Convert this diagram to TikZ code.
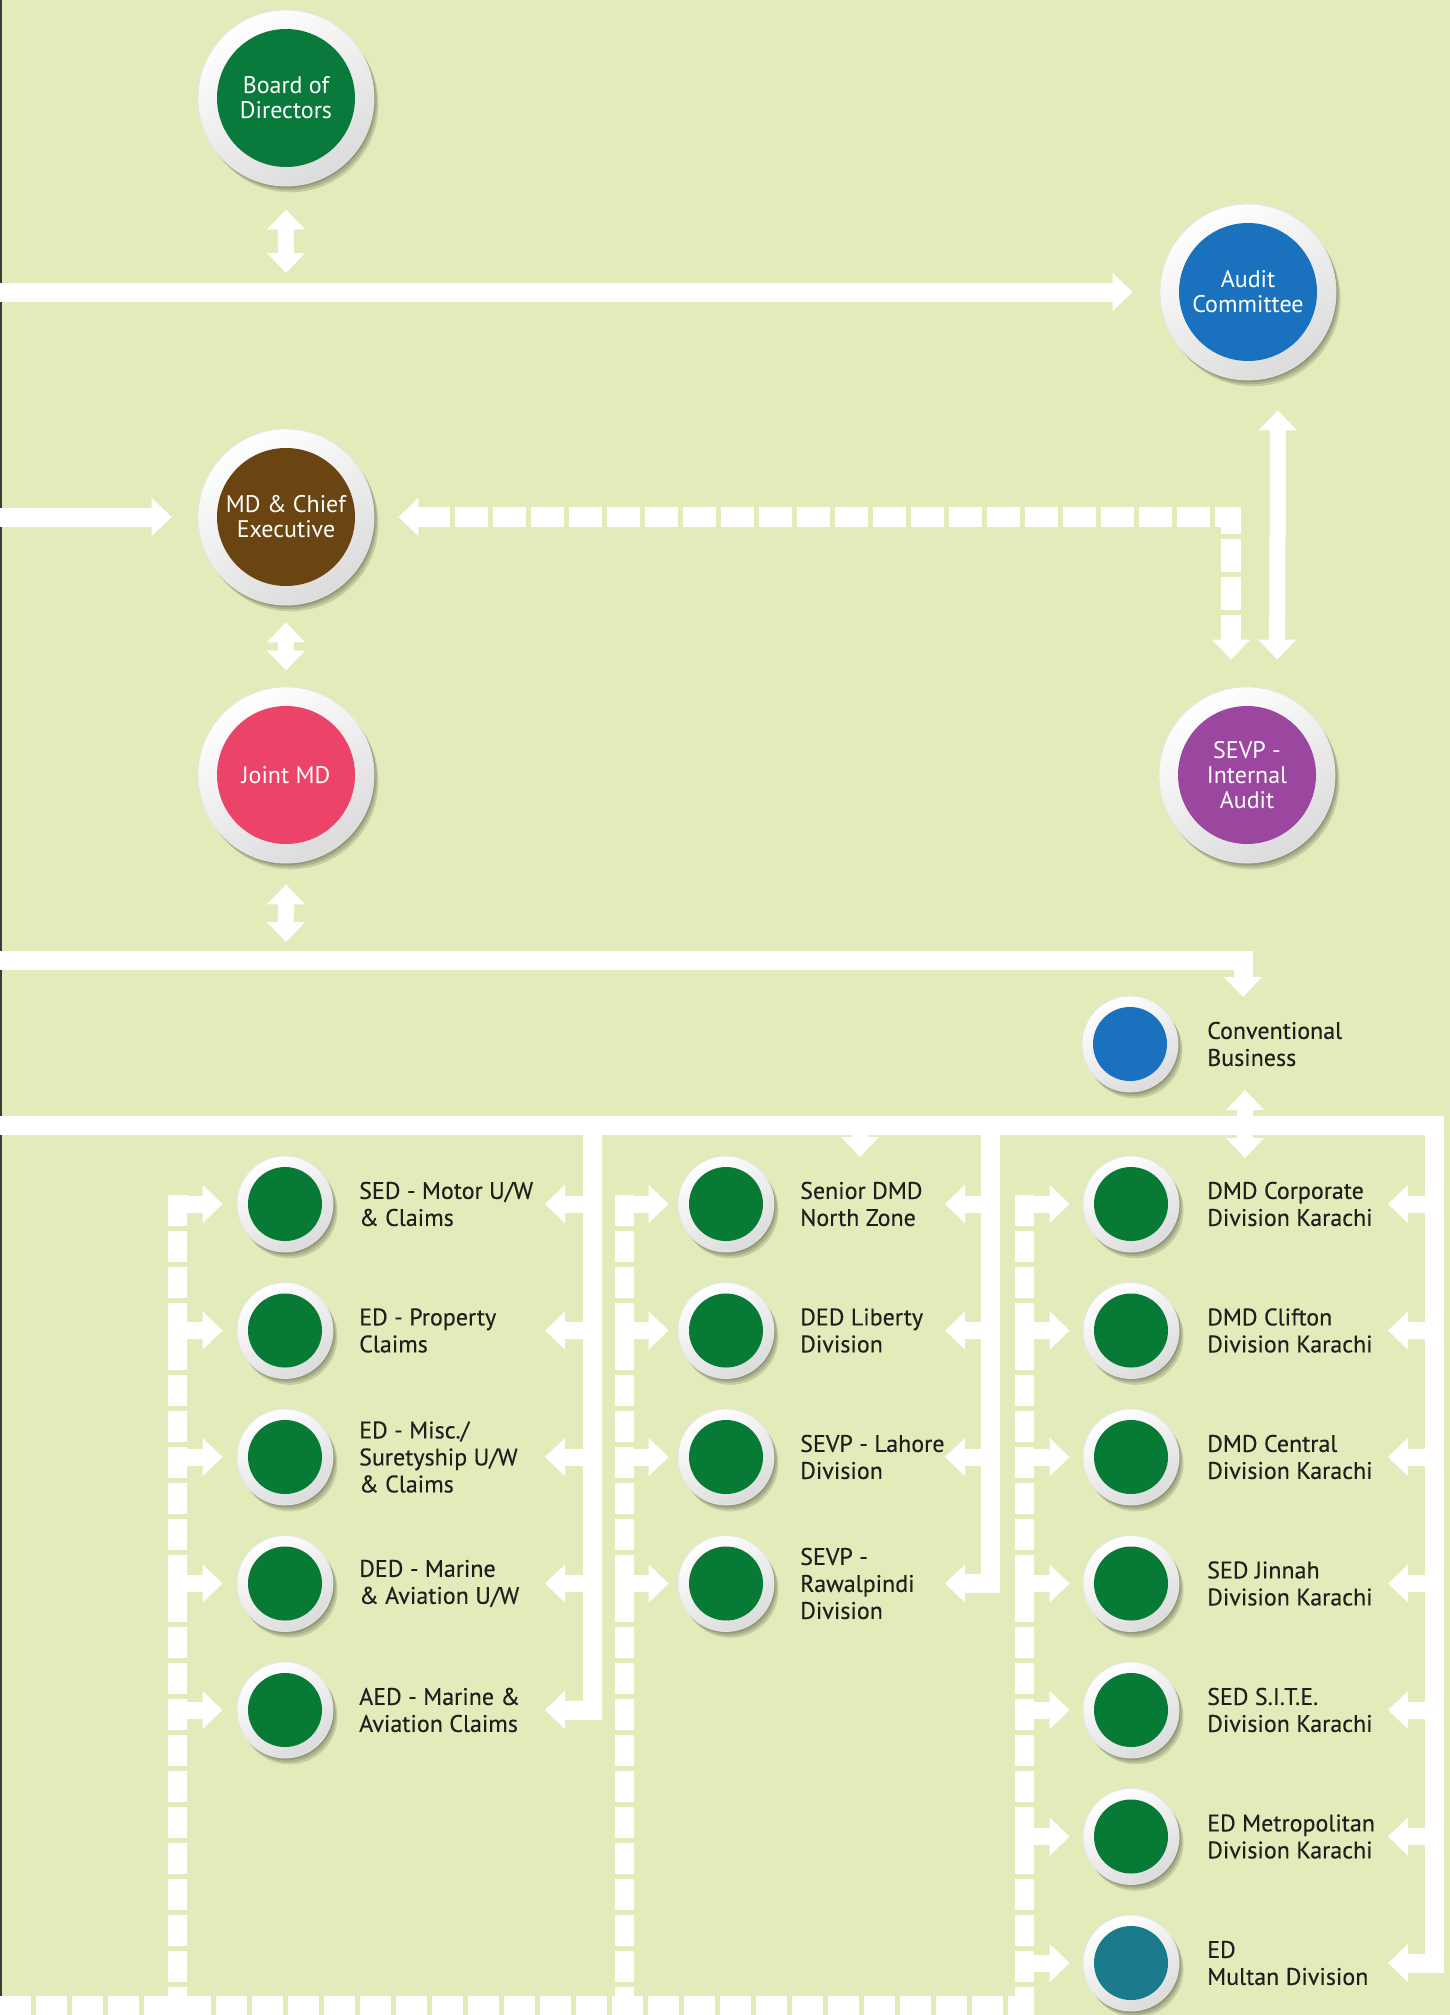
\documentclass[tikz,border=0pt]{standalone}
\usepackage{fontspec}
\setmainfont{PT Sans}
\usetikzlibrary{arrows.meta,shadows,calc}

\definecolor{bg}{HTML}{E2ECBA}
\definecolor{edge}{HTML}{3A3A3A}
\definecolor{boardgreen}{HTML}{0A7A3C}
\definecolor{unitgreen}{HTML}{077A36}
\definecolor{auditblue}{HTML}{1A72BE}
\definecolor{mdbrown}{HTML}{6A4512}
\definecolor{jointpink}{HTML}{EC4468}
\definecolor{iapurple}{HTML}{9B47A0}
\definecolor{multanteal}{HTML}{1B7B8C}
\definecolor{labelgray}{HTML}{1F1F1D}

\pgfdeclarelayer{base}
\pgfdeclarelayer{lines}
\pgfsetlayers{base,lines,main}

\begin{document}
\begin{tikzpicture}[x=1pt,y=-1pt,
  softshadow/.style={drop shadow={shadow xshift=#1, shadow yshift=-1.4*#1,
      opacity=0.13, fill=black}},
  ball/.style={circle, inner sep=0pt, minimum size=#1,
    softshadow=1.5pt, softshadow=3pt, softshadow=4.5pt,
    top color=white, bottom color=black!14, shading angle=30,
    draw=black!10, line width=0.8pt},
  bigball/.style={ball=176pt,
    path picture={\fill[#1] (path picture bounding box.center) circle (69pt);},
    text=white, align=center, font=\fontsize{24}{25}\selectfont},
  unitball/.style={ball=96pt,
    path picture={\fill[#1] (path picture bounding box.center) circle (37pt);}},
  lab/.style={anchor=west, align=left, inner sep=0pt, text=labelgray,
    font=\fontsize{24}{27}\selectfont\addfontfeature{FakeBold=0.25}},
  bar/.style={draw=white, line width=19pt, line join=miter},
  stub/.style={draw=white, line width=17pt},
  dshaft/.style={draw=white, line width=16pt},
  dbus/.style={draw=white, line width=19pt, dash pattern=on 31pt off 5pt},
  dlink/.style={draw=white, line width=20pt, dash pattern=on 33pt off 5pt, line join=miter},
  onehead/.style={-{Triangle[width=37pt,length=20pt]}},
  twoheads/.style={{Triangle[width=37pt,length=20pt]}-{Triangle[width=37pt,length=20pt]}},
]
\useasboundingbox (0,0) rectangle (1450,2015);
\begin{pgfonlayer}{base}
\fill[bg] (0,0) rectangle (1450,2015);
\fill[edge] (0,0) rectangle (2,2015);
\end{pgfonlayer}

% ---- bus end points and bends ----
\coordinate (w1) at (0,292);
\coordinate (w2) at (0,517);
\coordinate (w3) at (0,960);
\coordinate (w4) at (0,1125);
\coordinate (convin) at (1243,997);
\coordinate (convup) at (1245,1090);
\coordinate (convdn) at (1245,1158);
\coordinate (northin) at (860,1157);
\coordinate (rb1) at (592,1125);
\coordinate (rb2) at (990,1125);
\coordinate (rb3) at (1434,1125);
\coordinate (tp1) at (545,1125);
\coordinate (tp2) at (945,1125);
\coordinate (tp3) at (1388,1125);
\coordinate (db1) at (177,1195);
\coordinate (db2) at (624,1195);
\coordinate (db3) at (1024,1195);
\coordinate (foot) at (0,2015);
\coordinate (wbot) at (0,2005);

% ---- top management ----
\node[bigball=boardgreen] (board) at (286,98) {Board of\\Directors};
\node[bigball=auditblue] (audit) at (1248,292) {Audit\\Committee};
\node[bigball=mdbrown] (md) at (286,517) {MD \& Chief\\Executive};
\node[bigball=jointpink] (joint) at (286,775) {Joint MD};
\node[bigball=iapurple] (ia) at (1247,775) {SEVP -\\Internal\\Audit};
\node[unitball=auditblue] (conv) at (1130,1044) {};
\node[lab] (convlab) at (1207,1044) {Conventional\\Business};

% ---- column 1 ----
\node[unitball=unitgreen] (u11) at (285,1204) {};
\node[unitball=unitgreen] (u12) at (285,1330.5) {};
\node[unitball=unitgreen] (u13) at (285,1457) {};
\node[unitball=unitgreen] (u14) at (285,1583.5) {};
\node[unitball=unitgreen] (u15) at (285,1710) {};
\node[lab] (l11) at (359,1204) {SED - Motor U/W\\\& Claims};
\node[lab] (l12) at (359,1330.5) {ED - Property\\Claims};
\node[lab] (l13) at (359,1457) {ED - Misc./\\Suretyship U/W\\\& Claims};
\node[lab] (l14) at (359,1583.5) {DED - Marine\\\& Aviation U/W};
\node[lab] (l15) at (359,1710) {AED - Marine \&\\Aviation Claims};

% ---- column 2 ----
\node[unitball=unitgreen] (u21) at (726,1204) {};
\node[unitball=unitgreen] (u22) at (726,1330.5) {};
\node[unitball=unitgreen] (u23) at (726,1457) {};
\node[unitball=unitgreen] (u24) at (726,1583.5) {};
\node[lab] (l21) at (800,1204) {Senior DMD\\North Zone};
\node[lab] (l22) at (800,1330.5) {DED Liberty\\Division};
\node[lab] (l23) at (800,1457) {SEVP - Lahore\\Division};
\node[lab] (l24) at (800,1583.5) {SEVP -\\Rawalpindi\\Division};

% ---- column 3 ----
\node[unitball=unitgreen] (u31) at (1131,1204) {};
\node[unitball=unitgreen] (u32) at (1131,1330.5) {};
\node[unitball=unitgreen] (u33) at (1131,1457) {};
\node[unitball=unitgreen] (u34) at (1131,1583.5) {};
\node[unitball=unitgreen] (u35) at (1131,1710) {};
\node[unitball=unitgreen] (u36) at (1131,1836.5) {};
\node[unitball=multanteal] (u37) at (1131,1963) {};
\node[lab] (l31) at (1207,1204) {DMD Corporate\\Division Karachi};
\node[lab] (l32) at (1207,1330.5) {DMD Clifton\\Division Karachi};
\node[lab] (l33) at (1207,1457) {DMD Central\\Division Karachi};
\node[lab] (l34) at (1207,1583.5) {SED Jinnah\\Division Karachi};
\node[lab] (l35) at (1207,1710) {SED S.I.T.E.\\Division Karachi};
\node[lab] (l36) at (1207,1836.5) {ED Metropolitan\\Division Karachi};
\node[lab] (l37) at (1207,1963) {ED\\Multan Division};

% ---- connectors, kept beneath the buttons ----
\begin{pgfonlayer}{lines}
% board, audit committee, MD
\draw[dshaft, twoheads, shorten <=23pt, shorten >=19pt] (board.south) -- (board.south |- w1);
\draw[bar, onehead, shorten >=27pt] (w1) -- (audit);
\draw[bar, onehead, shorten >=26pt] (w2) -- (md);
\draw[dlink, twoheads, shorten <=24pt, shorten >=27pt] (md.east) -| ($(ia.north)+(-16,0)$);
\draw[dshaft, twoheads, shorten <=30pt, shorten >=27pt] ($(audit.south)+(30,0)$) -- ($(ia.north)+(30,0)$);
\draw[dshaft, twoheads, shorten <=17pt, shorten >=16pt] (md.south) -- (joint.north);
\draw[dshaft, twoheads, shorten <=21pt, shorten >=18pt] (joint.south) -- (joint.south |- w3);
% conventional business
\draw[bar, onehead] (w3) -| (convin);
\draw[dshaft, twoheads] (convup) -- (convdn);
% main distribution bus and right-hand feeders
\draw[bar, onehead] (w4) -- (rb3) -- (rb3 |- u37) -- (tp3 |- u37);
\draw[bar, onehead] (rb1) -- (rb1 |- u15) -- (tp1 |- u15);
\draw[bar, onehead] (rb2) -- (rb2 |- u24) -- (tp2 |- u24);
\draw[stub, onehead] (northin |- w4) -- (northin);
\foreach \u in {u11,u12,u13,u14}
  \draw[stub, onehead] (rb1 |- \u) -- (tp1 |- \u);
\foreach \u in {u21,u22,u23}
  \draw[stub, onehead] (rb2 |- \u) -- (tp2 |- \u);
\foreach \u in {u31,u32,u33,u34,u35,u36}
  \draw[stub, onehead] (rb3 |- \u) -- (tp3 |- \u);
% dashed left-hand feeders and the bottom line
\draw[dbus] (wbot) -- ($(wbot -| db3)+(10,0)$);
\draw[dbus] (db1) -- (db1 |- foot);
\draw[dbus] (db2) -- (db2 |- foot);
\draw[dbus] (db3) -- (db3 |- foot);
\foreach \u in {u11,u12,u13,u14,u15}
  \draw[stub, onehead, shorten >=14pt] ($(db1 |- \u)+(-9.5,0)$) -- (\u);
\foreach \u in {u21,u22,u23,u24}
  \draw[stub, onehead, shorten >=9pt] ($(db2 |- \u)+(-9.5,0)$) -- (\u);
\foreach \u in {u31,u32,u33,u34,u35,u36,u37}
  \draw[stub, onehead, shorten >=13pt] ($(db3 |- \u)+(-9.5,0)$) -- (\u);
\end{pgfonlayer}
\end{tikzpicture}
\end{document}
